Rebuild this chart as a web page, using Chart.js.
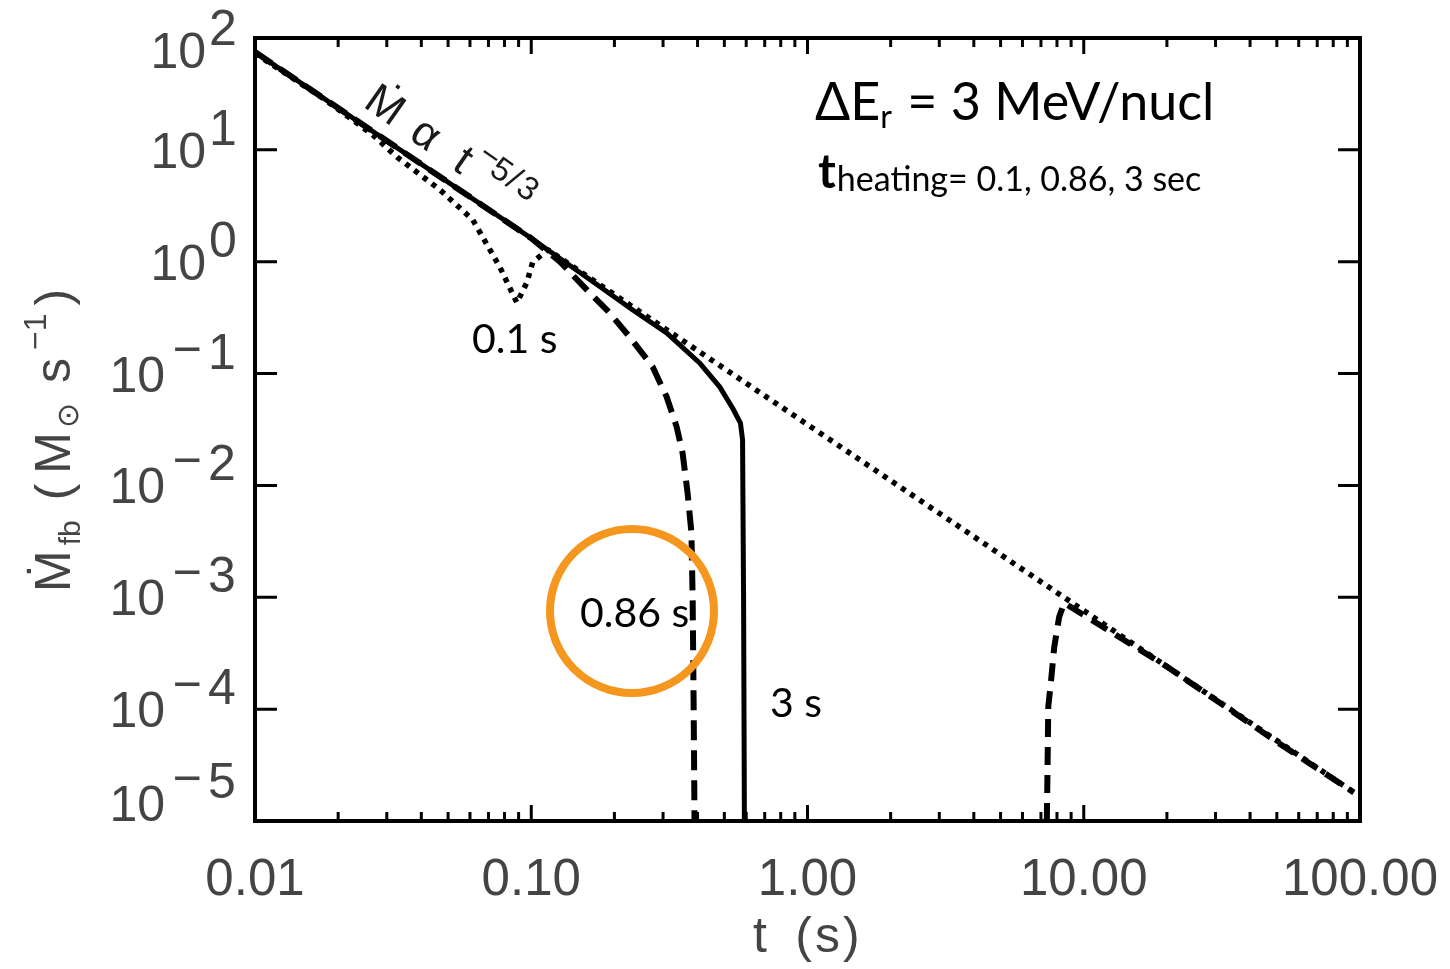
<!DOCTYPE html>
<html>
<head>
<meta charset="utf-8">
<script src="https://cdn.jsdelivr.net/npm/chart.js@4.4.1/dist/chart.umd.min.js"></script>
<style>
  html, body { margin: 0; padding: 0; background: #fff; }
  #wrap { width: 1450px; height: 969px; }
</style>
</head>
<body>
<div id="wrap"><canvas id="chart" width="1450" height="969"></canvas></div>
<script>
// Fallback accretion rate (Msun/s) against time (s) for three heating times.
// heating at 0.1 s (dotted): dips, then rejoins the t^-5/3 law
const tHeat01 = [0.01, 0.0176, 0.0267, 0.0327, 0.0467, 0.0614, 0.0769, 0.0887, 0.0964, 0.1012, 0.1148, 1.0, 10, 95];
const mHeat01 = [73, 29, 13.6, 8.6, 4.4, 2.37, 0.90, 0.43, 0.65, 0.99, 1.28, 0.035, 7.6e-4, 1.8e-5];

// heating at 0.86 s (dashed): early cut-off, then late return
const tHeat086 = [0.01, 0.1, 0.127, 0.159, 0.188, 0.227, 0.275, 0.309, 0.336, 0.353, 0.368, 0.380, 0.384, 0.387, 0.390];
const mHeat086 = [75, 1.62, 1.0, 0.56, 0.37, 0.213, 0.115, 0.062, 0.0334, 0.0195, 0.0086, 0.0038, 9.5e-4, 1.2e-4, 1e-5];
const tHeat086Late = [7.35, 7.38, 7.44, 7.62, 7.82, 8.15, 8.5, 20, 50, 95];
const mHeat086Late = [1e-5, 2.0e-5, 1.05e-4, 1.83e-4, 3.6e-4, 6.7e-4, 8.9e-4, 2.4e-4, 5.1e-5, 1.8e-5];

// heating at 3 s (solid)
const tHeat3 = [0.01, 0.1, 0.177, 0.233, 0.309, 0.406, 0.481, 0.536, 0.572, 0.582, 0.587, 0.591];
const mHeat3 = [75, 1.62, 0.6, 0.37, 0.231, 0.125, 0.076, 0.049, 0.036, 0.0255, 9.5e-4, 1e-5];

const xTickValues = [0.01, 0.1, 1, 10, 100];
const xTickLabels = ["0.01", "0.10", "1.00", "10.00", "100.00"];
const yTickExps = [2, 1, 0, -1, -2, -3, -4, -5];

const idlFont = '"Liberation Sans", Arial, sans-serif';
const noteFont = 'Lato, "Open Sans", sans-serif';

function pts(ts, ms) {
  return ts.map((t, i) => ({ x: t, y: ms[i] }));
}

function drawRuns(ctx, x, y, runs) {
  let cx = x;
  for (const r of runs) {
    ctx.font = r.font;
    ctx.fillText(r.text, cx, y + (r.dy || 0));
    cx += ctx.measureText(r.text).width + (r.gap || 0);
  }
  return cx - x;
}

const frame = {
  id: "frame",
  afterDraw(chart) {
    const { ctx, chartArea: a, scales } = chart;
    const xs = scales.x, ys = scales.y;
    ctx.save();

    // box
    ctx.strokeStyle = "#000";
    ctx.lineWidth = 4;
    ctx.strokeRect(a.left, a.top, a.right - a.left, a.bottom - a.top);

    // log ticks on bottom and top, pointing inward
    ctx.lineWidth = 3;
    ctx.beginPath();
    for (let e = -2; e <= 1; e++) {
      for (let k = 1; k <= 9; k++) {
        const v = k * Math.pow(10, e);
        const px = xs.getPixelForValue(v);
        const len = k === 1 ? 16 : 9;
        ctx.moveTo(px, a.bottom); ctx.lineTo(px, a.bottom - len);
        ctx.moveTo(px, a.top); ctx.lineTo(px, a.top + len);
      }
    }
    // decade ticks on left and right
    for (const e of yTickExps) {
      const py = ys.getPixelForValue(Math.pow(10, e));
      ctx.moveTo(a.left, py); ctx.lineTo(a.left + 22, py);
      ctx.moveTo(a.right, py); ctx.lineTo(a.right - 22, py);
    }
    ctx.stroke();

    // x tick labels
    ctx.fillStyle = "#444";
    ctx.textBaseline = "alphabetic";
    ctx.textAlign = "center";
    ctx.font = "51px " + idlFont;
    xTickValues.forEach((v, i) => {
      ctx.fillText(xTickLabels[i], xs.getPixelForValue(v), 895);
    });

    // y tick labels, 10 with raised exponent
    for (const e of yTickExps) {
      const py = ys.getPixelForValue(Math.pow(10, e));
      const mid = Math.min(Math.max(py, 50), 803);
      const base = mid + 18;
      ctx.font = "50px " + idlFont;
      if (e >= 0) {
        ctx.textAlign = "right";
        ctx.fillText("10", 206, base);
        ctx.textAlign = "left";
        ctx.fillText(String(e), 209, base - 23);
      } else {
        ctx.textAlign = "right";
        ctx.fillText("10", 165, base);
        ctx.textAlign = "center";
        ctx.fillText("\u2212", 187, base - 26);
        ctx.textAlign = "left";
        ctx.fillText(String(-e), 208, base - 23);
      }
    }

    // x title
    ctx.font = "50px " + idlFont;
    ctx.textAlign = "center";
    ctx.fillText("t", 760, 952);
    ctx.letterSpacing = "3px";
    ctx.fillText("(s)", 829, 952);
    ctx.letterSpacing = "0px";

    // y title, rotated
    ctx.save();
    ctx.translate(70, 592);
    ctx.rotate(-Math.PI / 2);
    ctx.textAlign = "left";
    drawRuns(ctx, 0, 0, [
      { text: "\u1E40", font: "50px " + idlFont, gap: 5 },
      { text: "fb", font: "30px " + idlFont, dy: 10, gap: 20 },
      { text: "(", font: "50px " + idlFont, gap: 10 },
      { text: "M", font: "50px " + idlFont, gap: 4 },
      { text: "\u2299", font: "30px " + idlFont, dy: 8, gap: 20 },
      { text: "s", font: "50px " + idlFont, gap: 8 },
      { text: "\u22121", font: "32px " + idlFont, dy: -24, gap: 8 },
      { text: ")", font: "50px " + idlFont }
    ]);
    ctx.restore();

    // power-law label along the curve
    ctx.save();
    ctx.fillStyle = "#1a1a1a";
    ctx.translate(362, 106);
    ctx.rotate(35 * Math.PI / 180);
    ctx.textAlign = "left";
    ctx.font = "44px " + idlFont;
    ctx.fillText("\u1E40", 0, 0);
    ctx.fillText("\u03B1", 56, 0);
    ctx.fillText("t", 108, 0);
    ctx.font = "33px " + idlFont;
    ctx.fillText("\u2212", 124, -22);
    ctx.fillText("5", 142, -17);
    ctx.fillText("/", 162, -17);
    ctx.fillText("3", 174, -17);
    ctx.restore();

    // curve labels
    ctx.fillStyle = "#000";
    ctx.textAlign = "left";
    ctx.font = "41px " + noteFont;
    ctx.fillText("0.1 s", 472, 353);
    ctx.fillText("0.86 s", 580, 627);
    ctx.fillText("3 s", 770, 717);

    // model parameters
    drawRuns(ctx, 815, 120, [
      { text: "\u0394E", font: "52px " + noteFont },
      { text: "r", font: "32px " + noteFont, dy: 8, gap: 2 },
      { text: " = 3 MeV/nucl", font: "52px " + noteFont }
    ]);
    drawRuns(ctx, 818, 188, [
      { text: "t", font: "bold 48px " + noteFont, gap: 1 },
      { text: "heating= 0.1, 0.86, 3 sec", font: "34px " + noteFont, dy: 3 }
    ]);

    // highlight ring
    ctx.strokeStyle = "#F5961E";
    ctx.lineWidth = 8;
    ctx.beginPath();
    ctx.arc(632, 611, 82, 0, Math.PI * 2);
    ctx.stroke();

    ctx.restore();
  }
};

const data = {
  datasets: [
    { label: "3 s", data: pts(tHeat3, mHeat3), borderColor: "#000", borderWidth: 5 },
    { label: "0.86 s", data: pts(tHeat086, mHeat086), borderColor: "#000", borderWidth: 6, borderDash: [20, 10] },
    { label: "0.86 s late", data: pts(tHeat086Late, mHeat086Late), borderColor: "#000", borderWidth: 6, borderDash: [18, 10] },
    { label: "0.1 s", data: pts(tHeat01, mHeat01), borderColor: "#000", borderWidth: 5.5, borderDash: [5, 6] }
  ]
};

new Chart(document.getElementById("chart"), {
  type: "line",
  data: data,
  plugins: [frame],
  options: {
    responsive: false,
    animation: false,
    devicePixelRatio: 1,
    layout: { padding: { top: 38, right: 90, left: 0, bottom: 0 } },
    plugins: { legend: { display: false }, tooltip: { enabled: false } },
    elements: {
      line: { tension: 0, borderCapStyle: "butt", borderJoinStyle: "round", fill: false },
      point: { radius: 0 }
    },
    scales: {
      x: {
        type: "logarithmic", min: 0.01, max: 100,
        ticks: { display: false }, grid: { display: false }, border: { display: false },
        afterFit: s => { s.height = 148; }
      },
      y: {
        type: "logarithmic", min: 1e-5, max: 100,
        ticks: { display: false }, grid: { display: false }, border: { display: false },
        afterFit: s => { s.width = 255; }
      }
    }
  }
});
</script>
</body>
</html>
